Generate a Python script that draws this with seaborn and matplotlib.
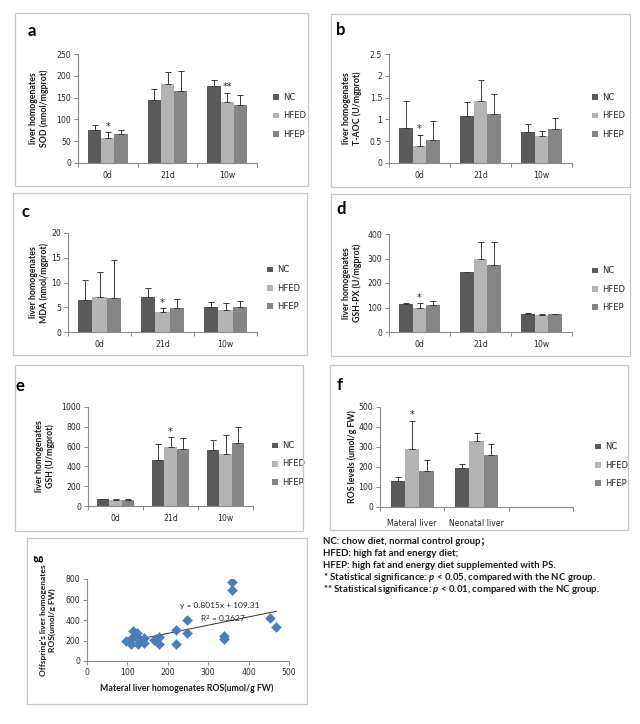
import numpy as np
import pandas as pd
import matplotlib
matplotlib.use("Agg")
import matplotlib.pyplot as plt
import seaborn as sns
from matplotlib.patches import Rectangle, Patch
from matplotlib.ticker import FuncFormatter, FixedLocator

sns.set_theme(style="white")
plt.rcParams['font.family'] = ['DejaVu Sans']
plt.rcParams['mathtext.fontset'] = 'custom'
plt.rcParams['mathtext.rm'] = 'Lato'
plt.rcParams['mathtext.it'] = 'Lato:italic:bold'
plt.rcParams['mathtext.bf'] = 'Lato:bold'

# ---------------- data ----------------
groups = ["NC", "HFED", "HFEP"]
times = ["0d", "21d", "10w"]

a_nc, a_nc_err = [76, 145, 177], [12, 25, 13]
a_hfed, a_hfed_err = [57, 182, 140], [13, 26, 21]
a_hfep, a_hfep_err = [66, 166, 132], [10, 44, 24]

b_nc, b_nc_err = [0.80, 1.08, 0.70], [0.63, 0.33, 0.20]
b_hfed, b_hfed_err = [0.40, 1.42, 0.62], [0.25, 0.49, 0.12]
b_hfep, b_hfep_err = [0.53, 1.12, 0.77], [0.44, 0.47, 0.27]

c_nc, c_nc_err = [6.4, 7.1, 5.0], [4.1, 1.7, 1.0]
c_hfed, c_hfed_err = [7.0, 4.0, 4.4], [5.1, 0.8, 1.4]
c_hfep, c_hfep_err = [6.9, 4.8, 5.0], [7.7, 1.8, 1.2]

d_nc, d_nc_err = [116, 245, 75], [1, 1, 1]
d_hfed, d_hfed_err = [97, 300, 70], [20, 68, 5]
d_hfep, d_hfep_err = [112, 273, 72], [13, 95, 3]

e_nc, e_nc_err = [70, 460, 562], [2, 162, 100]
e_hfed, e_hfed_err = [62, 597, 522], [8, 97, 200]
e_hfep, e_hfep_err = [65, 575, 632], [4, 107, 170]

f_cats = ["Materal liver", "Neonatal liver"]
f_slots = ["Materal liver", "Neonatal liver", ""]
f_nc, f_nc_err = [130, 195], [22, 22]
f_hfed, f_hfed_err = [290, 332], [142, 38]
f_hfep, f_hfep_err = [178, 260], [55, 55]

g_x = [96, 109, 111, 115, 120, 123, 127, 132, 142, 142, 166, 172, 177, 177,
       220, 220, 248, 248, 340, 340, 360, 360, 454, 469]
g_y = [193, 170, 220, 292, 240, 269, 170, 205, 220, 177, 203, 215, 236, 170,
       302, 164, 400, 275, 243, 210, 767, 689, 423, 334]
g_slope, g_intercept, g_r2 = 0.8015, 109.31, 0.3627

notes = [
    "NC: chow diet, normal control group；",
    "HFED: high fat and energy diet;",
    "HFEP: high fat and energy diet supplemented with PS.",
    "* Statistical significance: $p$ < 0.05, compared with the NC group.",
    "** Statistical significance: $p$ < 0.01, compared with the NC group.",
]

colors = {"NC": "#5a5a5a", "HFED": "#b4b4b4", "HFEP": "#858585"}
AX_COL = "#8a8a8a"
TXT = "#262626"
LBL_FONT = ["Lato", "DejaVu Sans"]
TICK_FS = 5.6

W, H = 640, 724
fig = plt.figure(figsize=(W / 100, H / 100), dpi=100)


def rect_px(x0, y0, x1, y1):
    return [x0 / W, 1 - y1 / H, (x1 - x0) / W, (y1 - y0) / H]


def box(x0, y0, x1, y1):
    fig.patches.append(Rectangle((x0 / W, 1 - y1 / H), (x1 - x0) / W, (y1 - y0) / H,
                                 transform=fig.transFigure, fill=False,
                                 edgecolor="#c6c6c6", lw=0.9))


def style_axes(ax):
    for s in ["top", "right"]:
        ax.spines[s].set_visible(False)
    for s in ["left", "bottom"]:
        ax.spines[s].set_color(AX_COL)
        ax.spines[s].set_linewidth(0.8)
    ax.tick_params(axis="y", which="major", length=3, width=0.7, color=AX_COL,
                   labelsize=TICK_FS, labelcolor=TXT, pad=2, direction="out", left=True)
    ax.yaxis.set_major_formatter(FuncFormatter(lambda v, p: "%g" % v))


def bar_panel(rect, cats, slots, vals, errs, ylim, ystep, stars, ylabel, ylab_x,
              letter, letter_pos, leg_pos, xpad=6):
    rows = []
    for g, v in zip(groups, vals):
        for c, val in zip(cats, v):
            rows.append({"Time": c, "Group": g, "Value": val})
    df = pd.DataFrame(rows)
    ax = fig.add_axes(rect)
    sns.barplot(data=df, x="Time", y="Value", hue="Group", order=slots,
                hue_order=groups, palette=colors, width=0.67, errorbar=None,
                saturation=1, ax=ax, legend=False, linewidth=0)
    for cont, gerr, g in zip(ax.containers, errs, groups):
        xs = [b.get_x() + b.get_width() / 2 for b in cont]
        hs = [b.get_height() for b in cont]
        ax.errorbar(xs, hs, yerr=[np.zeros(len(gerr)), gerr], fmt="none",
                    ecolor="#3a3a3a", elinewidth=0.7, capsize=2.2, capthick=0.7)
        for i, (x, h, e) in enumerate(zip(xs, hs, gerr)):
            key = (g, cats[i])
            if key in stars:
                ax.annotate(stars[key], xy=(x, h + e), xytext=(0, 0.5),
                            textcoords="offset points", ha="center", va="bottom",
                            fontsize=7, color=TXT)
    ax.set_ylim(*ylim)
    ax.set_yticks(np.arange(ylim[0], ylim[1] + ystep / 2, ystep))
    ax.set_xlim(-0.5, len(slots) - 0.5)
    ax.set_xlabel("")
    ax.set_ylabel("")
    style_axes(ax)
    ax.xaxis.set_minor_locator(FixedLocator(np.arange(-0.5, len(slots), 1.0)))
    ax.tick_params(axis="x", which="major", length=0, labelsize=TICK_FS, labelcolor=TXT, pad=xpad)
    ax.tick_params(axis="x", which="minor", length=3, width=0.7, color=AX_COL,
                   direction="out", bottom=True)
    pos = ax.get_position()
    fig.text(ylab_x / W, pos.y0 + pos.height / 2, ylabel, rotation=90, ha="center",
             va="center", fontsize=6.3, fontweight="bold", family=LBL_FONT,
             color="#1a1a1a", multialignment="center", linespacing=1.25)
    fig.text(letter_pos[0] / W, 1 - letter_pos[1] / H, letter, ha="center",
             va="center", fontsize=12, fontweight="bold", family=LBL_FONT, color="black")
    handles = [Patch(facecolor=colors[g], edgecolor="none") for g in groups]
    ax.legend(handles, groups, loc="center left",
              bbox_to_anchor=(leg_pos[0] / W, 1 - leg_pos[1] / H),
              bbox_transform=fig.transFigure, frameon=False, fontsize=6,
              handlelength=0.7, handleheight=0.7, handletextpad=0.5,
              labelspacing=1.1, borderpad=0, labelcolor=TXT)
    return ax


# panel boxes
box(15, 13, 308, 186)
box(331, 14, 630, 187)
box(13, 193, 307, 355)
box(331, 194, 630, 356)
box(15, 365, 303, 531)
box(330, 365, 628, 530)
box(27, 538, 307, 704)

bar_panel(rect_px(78, 54, 257, 163), times, times,
          [a_nc, a_hfed, a_hfep], [a_nc_err, a_hfed_err, a_hfep_err],
          (0, 250), 50, {("HFED", "0d"): "*", ("HFED", "10w"): "**"},
          "liver homogenates\nSOD (nmol/mgprot)", 39, "a", (32, 31), (269, 116))

bar_panel(rect_px(389, 54, 572, 163), times, times,
          [b_nc, b_hfed, b_hfep], [b_nc_err, b_hfed_err, b_hfep_err],
          (0, 2.5), 0.5, {("HFED", "0d"): "*"},
          "liver homogenates\nT-AOC (U/mgprot)", 352, "b", (341, 30), (588, 116))

bar_panel(rect_px(68, 233, 257, 332), times, times,
          [c_nc, c_hfed, c_hfep], [c_nc_err, c_hfed_err, c_hfep_err],
          (0, 20), 5, {("HFED", "21d"): "*"},
          "liver homogenates\nMDA (nmol/mgprot)", 39, "c", (25, 212), (263, 288))

bar_panel(rect_px(389, 234, 572, 332), times, times,
          [d_nc, d_hfed, d_hfep], [d_nc_err, d_hfed_err, d_hfep_err],
          (0, 400), 100, {("HFED", "0d"): "*"},
          "liver homogenates\nGSH-PX (U/mgprot)", 352, "d", (341, 209), (588, 289))

bar_panel(rect_px(88, 407, 253, 506), times, times,
          [e_nc, e_hfed, e_hfep], [e_nc_err, e_hfed_err, e_hfep_err],
          (0, 1000), 200, {("HFED", "21d"): "*"},
          "liver homogenates\nGSH (U/mgprot)", 45, "e", (20, 386), (268, 464))

bar_panel(rect_px(380, 407, 573, 507), f_cats, f_slots,
          [f_nc, f_hfed, f_hfep], [f_nc_err, f_hfed_err, f_hfep_err],
          (0, 500), 100, {("HFED", "Materal liver"): "*"},
          "ROS levels (umol/g FW)", 352, "f", (340, 385), (591, 465), xpad=9)

# ---------------- panel g ----------------
axg = fig.add_axes(rect_px(87, 579, 289, 661))
sns.scatterplot(x=g_x, y=g_y, marker="D", s=26, color="#4a7ebb", edgecolor="#4a7ebb",
                linewidth=0.3, ax=axg, zorder=3)
tx = np.array([min(g_x), max(g_x)])
axg.plot(tx, g_slope * tx + g_intercept, color="#303030", lw=0.7, zorder=2)
axg.set_xlim(0, 500)
axg.set_ylim(0, 800)
axg.set_xticks(np.arange(0, 501, 100))
axg.set_yticks(np.arange(0, 801, 200))
style_axes(axg)
axg.tick_params(axis="x", which="major", length=3, width=0.7, color=AX_COL,
                labelsize=TICK_FS, labelcolor=TXT, pad=2, direction="out", bottom=True)
axg.text(329, 546, "y = %.4fx + %.2f" % (g_slope, g_intercept), fontsize=6,
         color=TXT, ha="center", va="center", family=LBL_FONT)
axg.text(337, 410, "R$^2$ = %.4f" % g_r2, fontsize=6, color=TXT,
         ha="center", va="center", family=LBL_FONT)
fig.text(48 / W, 1 - 620 / H, "Offspring's liver homogenates\nROS(umol/g FW)",
         rotation=90, ha="center", va="center", fontsize=6.0, fontweight="bold",
         family=LBL_FONT, color="#1a1a1a", multialignment="center", linespacing=1.2)
fig.text(187 / W, 1 - 688 / H, "Materal liver homogenates ROS(umol/g FW)",
         ha="center", va="center", fontsize=6.3, fontweight="bold",
         family=LBL_FONT, color="#1a1a1a")
fig.text(38 / W, 1 - 558 / H, "g", rotation=90, ha="center", va="center",
         fontsize=10, fontweight="bold", family=LBL_FONT, color="black")

# ---------------- notes ----------------
for i, t in enumerate(notes):
    fig.text(323 / W, 1 - (541 + 12 * i) / H, t, ha="left", va="center",
             fontsize=6.9, fontweight="bold", family=["Lato", "Noto Sans CJK SC"],
             color="#1a1a1a")

fig.savefig("out.png", dpi=100, facecolor="white")
